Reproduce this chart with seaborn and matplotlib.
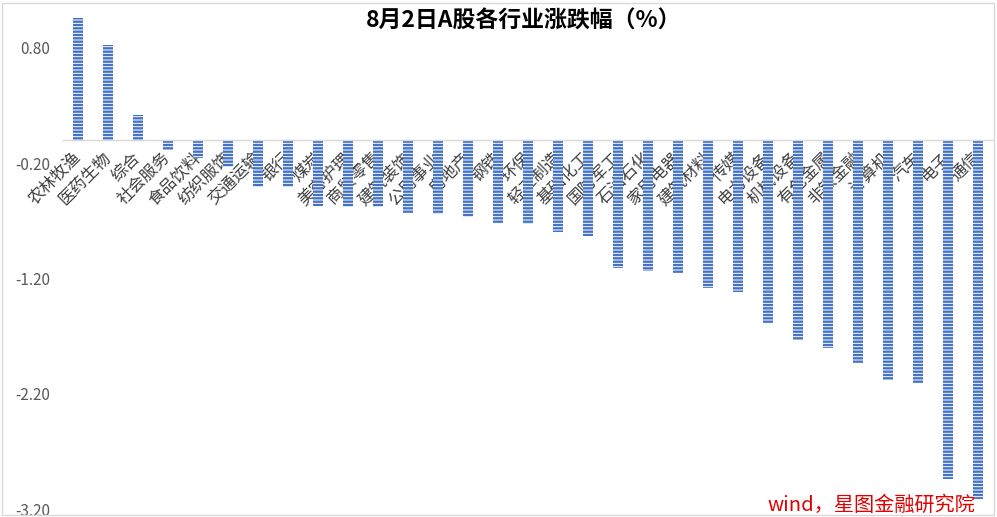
import matplotlib
matplotlib.use("Agg")
import matplotlib.pyplot as plt
import seaborn as sns
import pandas as pd
from matplotlib.patches import Rectangle

categories = ["农林牧渔", "医药生物", "综合", "社会服务", "食品饮料", "纺织服饰", "交通运输", "银行",
              "煤炭", "美容护理", "商贸零售", "建筑装饰", "公用事业", "房地产", "钢铁", "环保",
              "轻工制造", "基础化工", "国防军工", "石油石化", "家用电器", "建筑材料", "传媒",
              "电力设备", "机械设备", "有色金属", "非银金融", "计算机", "汽车", "电子", "通信"]
values = [1.06, 0.82, 0.22, -0.09, -0.16, -0.23, -0.41, -0.41,
          -0.57, -0.58, -0.58, -0.63, -0.64, -0.67, -0.72, -0.73,
          -0.80, -0.83, -1.11, -1.14, -1.15, -1.28, -1.32,
          -1.59, -1.73, -1.80, -1.93, -2.08, -2.11, -2.94, -3.11]
yticks = [0.80, -0.20, -1.20, -2.20, -3.20]
title = "8月2日A股各行业涨跌幅（%）"
source = "wind，星图金融研究院"

sns.set_theme(style="white")
plt.rcParams['font.family'] = ['Noto Sans CJK SC', 'DejaVu Sans']
plt.rcParams['hatch.linewidth'] = 1.7

df = pd.DataFrame({"cat": categories, "val": values})

W, H = 997, 517
fig = plt.figure(figsize=(W / 100, H / 100), dpi=100)
ax_left, ax_right = 63, 993
ax_top, ax_bottom = 10.9, 509
ax = fig.add_axes([ax_left / W, (H - ax_bottom) / H, (ax_right - ax_left) / W, (ax_bottom - ax_top) / H])

blue = "#4472C4"
sns.barplot(data=df, x="cat", y="val", color="white", width=0.31, ax=ax, saturation=1)
for p in ax.patches:
    p.set_facecolor("white")
    p.set_edgecolor(blue)
    p.set_linewidth(0)
    p.set_hatch("-----")

ax.set_xlim(-0.5, len(categories) - 0.5)
ax.set_ylim(-3.2, 1.12)
ax.set_yticks(yticks)
ax.set_yticklabels([f"{v:.2f}" for v in yticks], fontsize=11, color="#595959")
ax.tick_params(axis="y", length=0, pad=9)
ax.tick_params(axis="x", length=0, pad=11)
for s in ["left", "right", "top"]:
    ax.spines[s].set_visible(False)
ax.spines["bottom"].set_position(("data", 0))
ax.spines["bottom"].set_color("#D9D9D9")
ax.spines["bottom"].set_linewidth(1.0)
ax.set_xlabel("")
ax.set_ylabel("")
ax.set_xticks(range(len(categories)))
ax.set_xticklabels(categories, rotation=45, ha="right", va="center",
                   rotation_mode="anchor", fontsize=12, color="#404040")
ax.grid(False)
ax.set_facecolor("none")

fig.text(524 / W, 1 - 21 / H, title, ha="center", va="center", fontsize=16.5, fontweight="bold", color="black")
fig.text(975 / W, 1 - 505 / H, source, ha="right", va="center", fontsize=14.5, color="#E00000", style="italic")

fig.patches.append(Rectangle((2 / W, 2 / H), (W - 5) / W, (H - 5) / H, transform=fig.transFigure,
                             fill=False, edgecolor="#D9D9D9", linewidth=1.0))

fig.savefig("out.png", dpi=100)
